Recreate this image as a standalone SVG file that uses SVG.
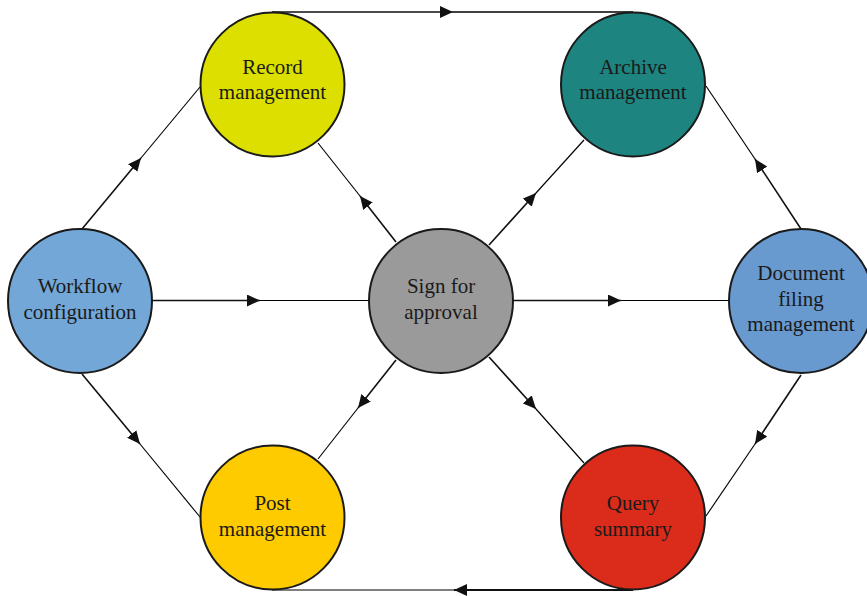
<svg xmlns="http://www.w3.org/2000/svg" width="867" height="596" viewBox="0 0 867 596">
<defs>
<marker id="arr" markerUnits="userSpaceOnUse" markerWidth="14" markerHeight="12" refX="13" refY="6" orient="auto" viewBox="0 0 14 12">
<path d="M0,0 L13,6 L0,12 z" fill="#111"/>
</marker>
</defs>
<style>
.n{stroke:#1a1a1a;stroke-width:2}
.t{font-family:"Liberation Serif","Times New Roman",serif;font-size:21px;fill:#1a1a1a;text-anchor:middle}
.a{stroke:#111;stroke-width:1.6;fill:none;marker-end:url(#arr)}
.b{stroke:#000;stroke-width:1.15;fill:none}
</style>
<rect width="867" height="596" fill="#fff"/>
<g id="connectors">
<line class="a" x1="272" y1="12" x2="453" y2="12"/><line class="b" x1="453" y1="12" x2="633" y2="12" style="stroke-width:1.5"/>
<line class="a" x1="633" y1="590" x2="454" y2="590" style="stroke-width:2.2"/><line class="b" x1="454" y1="590" x2="272" y2="590" style="stroke:#555;stroke-width:1.6"/>
<line class="a" x1="82" y1="229" x2="141" y2="158"/><line class="b" x1="141" y1="158" x2="200" y2="87"/>
<line class="a" x1="396" y1="242" x2="360" y2="196"/><line class="b" x1="360" y1="196" x2="318" y2="143"/>
<line class="a" x1="152" y1="300.5" x2="260" y2="300.5"/><line class="b" x1="260" y1="300.5" x2="369" y2="300.5"/>
<line class="a" x1="489" y1="245" x2="536" y2="193"/><line class="b" x1="536" y1="193" x2="584" y2="140"/>
<line class="a" x1="801" y1="229" x2="755" y2="159"/><line class="b" x1="755" y1="159" x2="706" y2="86"/>
<line class="a" x1="513" y1="300.5" x2="621" y2="300.5"/><line class="b" x1="621" y1="300.5" x2="729" y2="300.5"/>
<line class="a" x1="82" y1="374" x2="140" y2="444"/><line class="b" x1="140" y1="444" x2="200" y2="517"/>
<line class="a" x1="396" y1="360" x2="358" y2="408"/><line class="b" x1="358" y1="408" x2="318" y2="459"/>
<line class="a" x1="489" y1="357" x2="536" y2="409"/><line class="b" x1="536" y1="409" x2="584" y2="463"/>
<line class="a" x1="801" y1="375" x2="755" y2="444"/><line class="b" x1="755" y1="444" x2="706" y2="516"/>
</g>
<g id="record"><circle class="n" cx="272.5" cy="84.5" r="72" fill="#dcdf00"/><text class="t" x="272.5" y="74">Record</text><text class="t" x="272.5" y="99">management</text></g>
<g id="archive"><circle class="n" cx="633" cy="84.5" r="72" fill="#1e8480"/><text class="t" x="633" y="74">Archive</text><text class="t" x="633" y="99">management</text></g>
<g id="workflow"><circle class="n" cx="80" cy="301" r="72" fill="#73a7d7"/><text class="t" x="80" y="293">Workflow</text><text class="t" x="80" y="319">configuration</text></g>
<g id="sign"><circle class="n" cx="441" cy="301" r="72" fill="#9a9a9a"/><text class="t" x="441" y="293">Sign for</text><text class="t" x="441" y="319">approval</text></g>
<g id="document"><circle class="n" cx="801" cy="301" r="72" fill="#6899cf"/><text class="t" x="801" y="280">Document</text><text class="t" x="801" y="306">filing</text><text class="t" x="801" y="331">management</text></g>
<g id="post"><circle class="n" cx="272.5" cy="517.5" r="72" fill="#fdcb00"/><text class="t" x="272.5" y="510">Post</text><text class="t" x="272.5" y="536">management</text></g>
<g id="query"><circle class="n" cx="633" cy="517.5" r="72" fill="#db2b1a"/><text class="t" x="633" y="510">Query</text><text class="t" x="633" y="536">summary</text></g>
</svg>
